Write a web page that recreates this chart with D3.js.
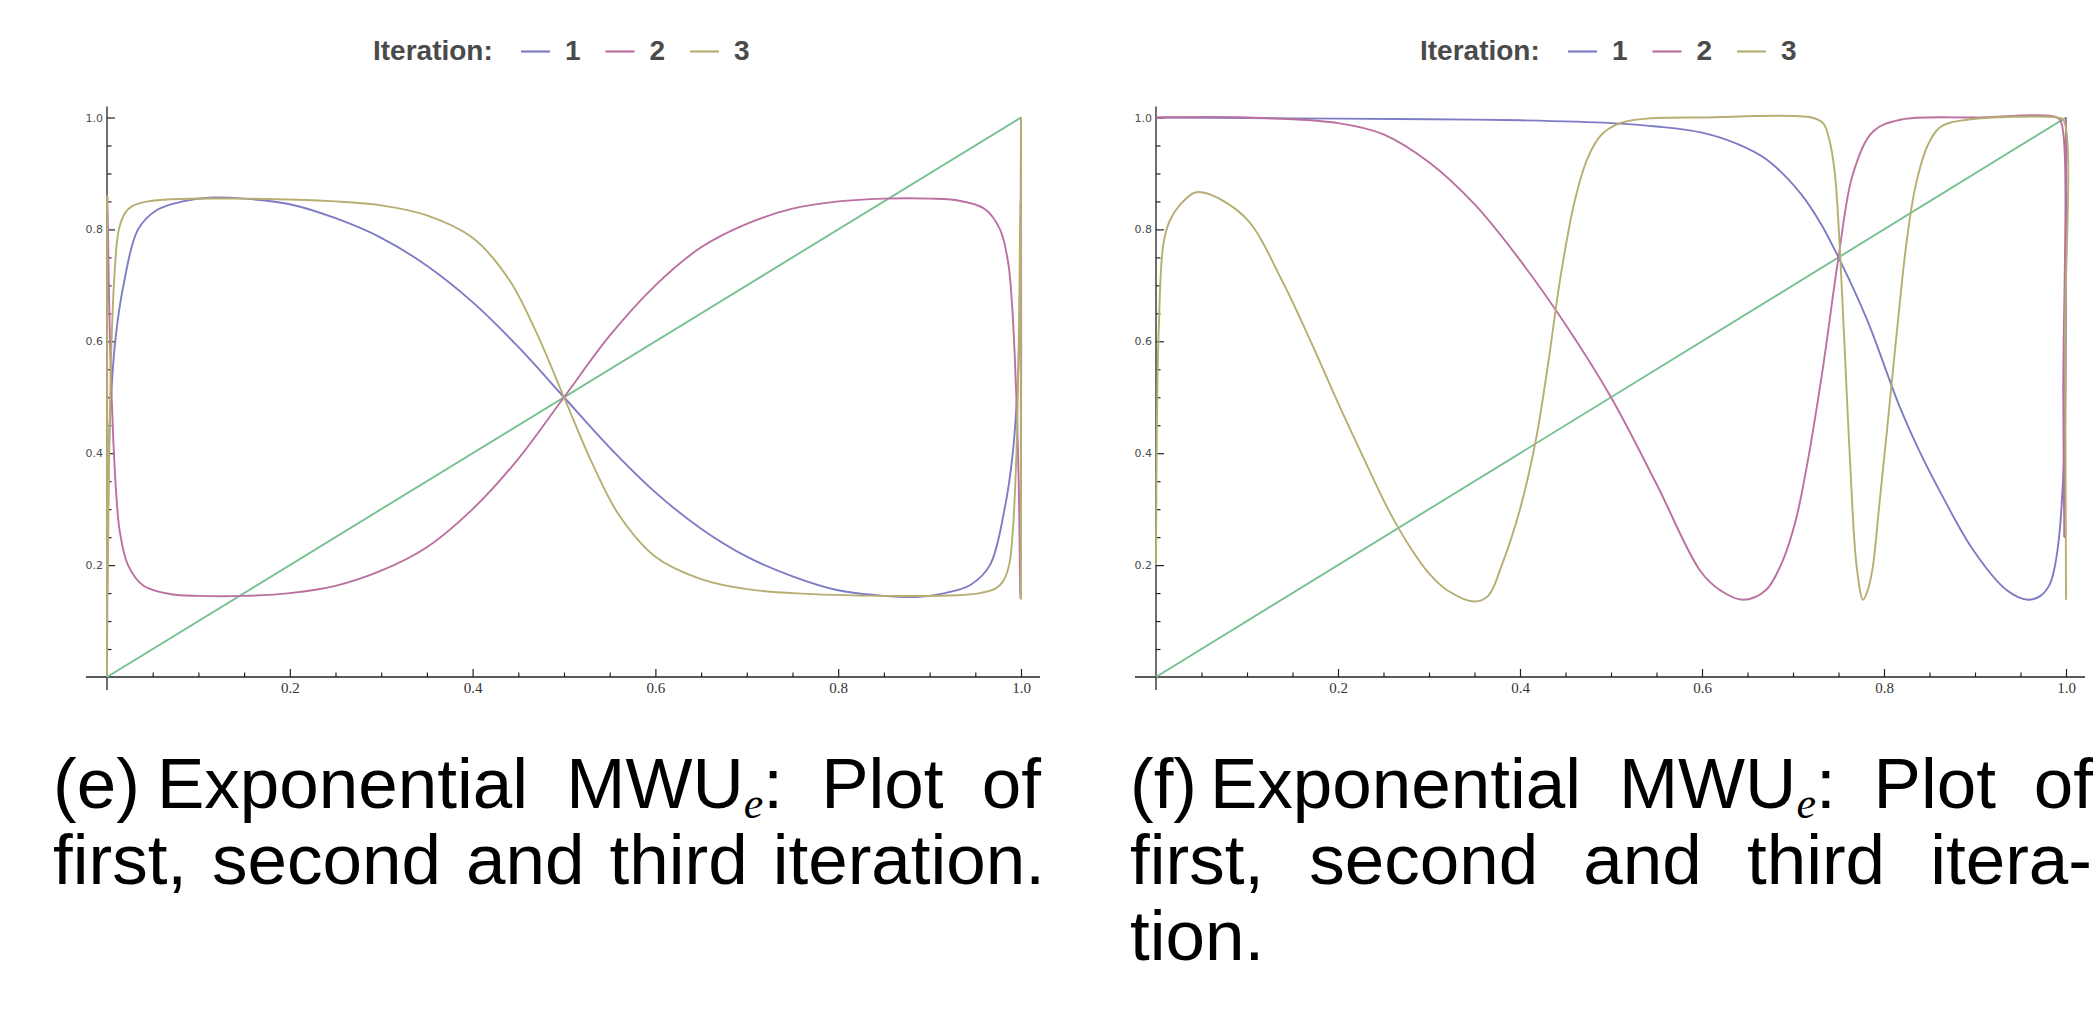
<!DOCTYPE html>
<html>
<head>
<meta charset="utf-8">
<script src="https://cdnjs.cloudflare.com/ajax/libs/d3/7.8.5/d3.min.js"></script>
<style>
    body { margin: 0; background: #fff; }
    .axis-line { stroke: #222; stroke-width: 1.3; }
    .tick line { stroke: #222; stroke-width: 1.2; }
    .y-axis text { font-family: 'DejaVu Sans', sans-serif; font-size: 11px; fill: #4d4d4d; }
    .x-axis text { font-family: 'Liberation Serif', serif; font-size: 15px; fill: #333; }
    .legend text { font-family: 'Liberation Sans', Arial, sans-serif; font-weight: bold; font-size: 28px; fill: #4a4a4a; }
    .caption { font-family: 'Liberation Sans', Arial, sans-serif; font-size: 71px; fill: #000; }
    .series { fill: none; stroke-width: 1.9; stroke-linejoin: round; }
</style>
</head>
<body>
<div id="chart"></div>
<script>

// ---- values ----
var xMajorTicks = [0.2, 0.4, 0.6, 0.8, 1.0];
var xTickLabels = ['0.2', '0.4', '0.6', '0.8', '1.0'];
var yMajorTicks = [0.2, 0.4, 0.6, 0.8, 1.0];
var yTickLabels = ['0.2', '0.4', '0.6', '0.8', '1.0'];
var minorTicks = [0.05, 0.1, 0.15, 0.25, 0.3, 0.35, 0.45, 0.5, 0.55, 0.65, 0.7, 0.75, 0.85, 0.9, 0.95];

var legendTitle = 'Iteration:';
var legendLabels = ['1', '2', '3'];
var seriesColors = ['#7e7cc4', '#bb71a0', '#b6ae72', '#76c191'];

var diagonal = [[0, 0], [1, 1]];

// (e) left panel
var leftIter1 = [[0, 0], [0.0008, 0.25], [0.003, 0.45], [0.009, 0.6], [0.018, 0.7], [0.034, 0.8], [0.055, 0.835],
    [0.083, 0.85], [0.115, 0.857], [0.15, 0.855], [0.2, 0.845], [0.25, 0.82], [0.3, 0.785], [0.35, 0.735],
    [0.4, 0.67], [0.45, 0.59], [0.5, 0.5], [0.55, 0.41], [0.6, 0.33], [0.65, 0.265], [0.7, 0.215], [0.75, 0.18],
    [0.8, 0.155], [0.85, 0.145], [0.885, 0.143], [0.917, 0.15], [0.945, 0.165], [0.966, 0.2], [0.982, 0.3],
    [0.991, 0.4], [0.997, 0.55], [0.9992, 0.75], [1, 1]];
var leftIter2 = [[0, 0], [0.0004, 0.86], [0.002, 0.7], [0.004, 0.55], [0.007, 0.42], [0.01, 0.33], [0.014, 0.26],
    [0.023, 0.2], [0.04, 0.163], [0.07, 0.148], [0.1, 0.145], [0.15, 0.145], [0.2, 0.15], [0.25, 0.163],
    [0.3, 0.19], [0.35, 0.232], [0.4, 0.3], [0.45, 0.39], [0.5, 0.5], [0.55, 0.61], [0.6, 0.7], [0.65, 0.768],
    [0.7, 0.81], [0.75, 0.837], [0.8, 0.85], [0.85, 0.855], [0.9, 0.855], [0.93, 0.852], [0.96, 0.837],
    [0.977, 0.8], [0.986, 0.74], [0.99, 0.67], [0.993, 0.58], [0.996, 0.45], [0.998, 0.3], [0.9992, 0.15],
    [0.9996, 0.14], [1, 1]];
var leftIter3 = [[0, 0], [0.0002, 0.86], [0.0006, 0.15], [0.002, 0.35], [0.005, 0.6], [0.009, 0.74], [0.013, 0.8],
    [0.02, 0.83], [0.028, 0.842], [0.045, 0.85], [0.07, 0.854], [0.15, 0.855], [0.25, 0.85], [0.3, 0.843],
    [0.35, 0.825], [0.4, 0.785], [0.44, 0.71], [0.47, 0.615], [0.5, 0.5], [0.53, 0.385], [0.56, 0.29],
    [0.6, 0.215], [0.65, 0.175], [0.7, 0.157], [0.75, 0.15], [0.85, 0.145], [0.93, 0.146], [0.955, 0.15],
    [0.972, 0.158], [0.98, 0.17], [0.987, 0.2], [0.991, 0.26], [0.995, 0.4], [0.998, 0.65], [0.9994, 0.85],
    [0.9998, 0.14], [1, 1]];

// (f) right panel
var rightIter1 = [[0, 1], [0.1, 0.999], [0.2, 0.998], [0.3, 0.997], [0.4, 0.995], [0.5, 0.99], [0.55, 0.984],
    [0.6, 0.973], [0.64, 0.952], [0.671, 0.925], [0.708, 0.865], [0.73, 0.812], [0.75, 0.75], [0.781, 0.64],
    [0.818, 0.48], [0.84, 0.4], [0.862, 0.33], [0.898, 0.227], [0.935, 0.155], [0.958, 0.138], [0.972, 0.145],
    [0.982, 0.165], [0.988, 0.2], [0.993, 0.26], [0.997, 0.36], [0.999, 0.45], [1, 1]];
var rightIter2 = [[0, 1], [0.1, 1], [0.2, 0.99], [0.25, 0.97], [0.3, 0.92], [0.35, 0.845], [0.4, 0.745],
    [0.45, 0.63], [0.5, 0.5], [0.55, 0.345], [0.598, 0.19], [0.62, 0.155], [0.645, 0.138], [0.67, 0.155],
    [0.689, 0.209], [0.703, 0.28], [0.715, 0.375], [0.733, 0.554], [0.75, 0.75], [0.766, 0.9], [0.788, 0.975],
    [0.818, 0.996], [0.9, 1], [0.99, 1], [0.995, 0.99], [0.997, 0.5], [0.998, 0.25], [0.999, 0.7], [1, 1]];
var rightIter3 = [[0, 0.2], [0.001, 0.45], [0.003, 0.62], [0.008, 0.773], [0.015, 0.815], [0.027, 0.845],
    [0.043, 0.866], [0.06, 0.862], [0.1, 0.818], [0.138, 0.71], [0.17, 0.6], [0.2, 0.49], [0.23, 0.385],
    [0.255, 0.3], [0.28, 0.23], [0.3, 0.185], [0.32, 0.155], [0.35, 0.135], [0.365, 0.145], [0.38, 0.2],
    [0.4, 0.3], [0.417, 0.42], [0.43, 0.55], [0.445, 0.72], [0.46, 0.85], [0.475, 0.93], [0.49, 0.97],
    [0.51, 0.99], [0.54, 0.998], [0.6, 1], [0.72, 1], [0.733, 0.99], [0.74, 0.96], [0.746, 0.9], [0.752, 0.75],
    [0.757, 0.58], [0.763, 0.375], [0.77, 0.197], [0.777, 0.138], [0.783, 0.16], [0.788, 0.2], [0.795, 0.31],
    [0.803, 0.436], [0.814, 0.615], [0.825, 0.78], [0.835, 0.88], [0.848, 0.95], [0.862, 0.983],
    [0.891, 0.996], [0.99, 1], [0.997, 0.996], [0.999, 0.6], [1, 0.138]];

var leftCaption = ['(e)', 'Exponential MWU', 'e', ': Plot of', 'first, second and third iteration.'];
var rightCaption = ['(f)', 'Exponential MWU', 'e', ': Plot of', 'first, second and third itera-', 'tion.'];


IterationPlot = function(_svg, _box, _series, _caption) {
    this.svg = _svg;
    this.box = _box;
    this.series = _series;
    this.caption = _caption;

    this.initVis();
}

IterationPlot.prototype.initVis = function() {
    var vis = this;

    vis.g = vis.svg.append('g').attr('class', 'panel');

    vis.x = d3.scaleLinear()
        .domain([0, 1])
        .range([vis.box.left, vis.box.right]);

    vis.y = d3.scaleLinear()
        .domain([0, 1])
        .range([vis.box.bottom, vis.box.top]);

    // long axis lines crossing at the origin
    vis.g.append('line')
        .attr('class', 'axis-line')
        .attr('x1', vis.x(0) - 21).attr('x2', vis.x(1) + 19)
        .attr('y1', vis.y(0)).attr('y2', vis.y(0));

    vis.g.append('line')
        .attr('class', 'axis-line')
        .attr('x1', vis.x(0)).attr('x2', vis.x(0))
        .attr('y1', vis.y(1) - 11).attr('y2', vis.y(0) + 13);

    vis.g.append('g')
        .attr('class', 'x-axis axis')
        .attr('transform', 'translate(0,' + vis.y(0) + ')')
        .call(d3.axisBottom(vis.x).tickValues(xMajorTicks).tickSize(-8).tickPadding(5)
            .tickFormat(function(d, i) { return xTickLabels[i]; }))
        .call(function(g) { g.select('.domain').remove(); });

    vis.g.append('g')
        .attr('class', 'x-axis axis')
        .attr('transform', 'translate(0,' + vis.y(0) + ')')
        .call(d3.axisBottom(vis.x).tickValues(minorTicks).tickSize(-4.5))
        .call(function(g) { g.select('.domain').remove(); g.selectAll('text').remove(); });

    vis.g.append('g')
        .attr('class', 'y-axis axis')
        .attr('transform', 'translate(' + vis.x(0) + ',0)')
        .call(d3.axisLeft(vis.y).tickValues(yMajorTicks).tickSize(-8).tickPadding(4)
            .tickFormat(function(d, i) { return yTickLabels[i]; }))
        .call(function(g) { g.select('.domain').remove(); });

    vis.g.append('g')
        .attr('class', 'y-axis axis')
        .attr('transform', 'translate(' + vis.x(0) + ',0)')
        .call(d3.axisLeft(vis.y).tickValues(minorTicks).tickSize(-4.5))
        .call(function(g) { g.select('.domain').remove(); g.selectAll('text').remove(); });

    vis.line = d3.line()
        .x(function(d) { return vis.x(d[0]); })
        .y(function(d) { return vis.y(d[1]); })
        .curve(d3.curveCatmullRom.alpha(0.5));

    vis.drawLegend();
    vis.drawCaption();
    vis.updateVis();
}

IterationPlot.prototype.drawLegend = function() {
    var vis = this;
    var startX = (vis.x(0) - 21 + vis.x(1) + 19) / 2 - 190;

    var legend = vis.g.append('g').attr('class', 'legend');

    legend.append('text')
        .attr('x', startX)
        .attr('y', 60)
        .text(legendTitle);

    legendLabels.forEach(function(lab, i) {
        var itemX = startX + 148 + i * 84.5;
        legend.append('line')
            .attr('x1', itemX).attr('x2', itemX + 29)
            .attr('y1', 51.5).attr('y2', 51.5)
            .attr('stroke', seriesColors[i])
            .attr('stroke-width', 2.2);
        legend.append('text')
            .attr('x', itemX + 44)
            .attr('y', 60)
            .text(lab);
    });
}

// widen the gaps between words so a caption line fills its width, like justified LaTeX text
function fitLine(text, width) {
    var natural = text.node().getComputedTextLength();
    var spaces = (text.text().match(/ /g) || []).length;
    if (spaces > 0) {
        text.style('word-spacing', ((width - natural) / spaces) + 'px');
    }
}

IterationPlot.prototype.drawCaption = function() {
    var vis = this;
    var c = vis.caption;
    var left = vis.box.captionLeft;

    vis.g.append('text')
        .attr('class', 'caption')
        .attr('x', left).attr('y', 808)
        .text(c[0]);

    var first = vis.g.append('text')
        .attr('class', 'caption')
        .attr('x', vis.box.captionIndent).attr('y', 808);
    first.append('tspan').text(c[1]);
    first.append('tspan')
        .attr('dy', 10)
        .style('font-family', "'Liberation Serif', serif")
        .style('font-style', 'italic')
        .style('font-size', '44px')
        .text(c[2]);
    first.append('tspan').attr('dy', -10).text(c[3]);
    fitLine(first, vis.box.line1Len);

    for (var i = 4; i < c.length; i++) {
        var t = vis.g.append('text')
            .attr('class', 'caption')
            .attr('x', left).attr('y', 808 + (i - 3) * 76)
            .text(c[i]);
        if (i == 4) fitLine(t, vis.box.line2Len);
    }
}

IterationPlot.prototype.updateVis = function() {
    var vis = this;

    var paths = vis.g.selectAll('.series')
        .data(vis.series);

    paths.enter()
        .append('path')
        .attr('class', 'series')
        .merge(paths)
        .attr('d', function(d) { return vis.line(d.values); })
        .attr('stroke', function(d) { return d.color; });

    paths.exit().remove();
}


var svg = d3.select('#chart')
    .append('svg')
    .attr('width', 2093)
    .attr('height', 1019);

svg.append('rect').attr('width', 2093).attr('height', 1019).attr('fill', '#fff');

var leftPlot = new IterationPlot(svg,
    { left: 107, right: 1021, top: 117.5, bottom: 677, captionLeft: 53, captionIndent: 157,
      line1Len: 884, line2Len: 992 },
    [
        { values: diagonal, color: seriesColors[3] },
        { values: leftIter1, color: seriesColors[0] },
        { values: leftIter2, color: seriesColors[1] },
        { values: leftIter3, color: seriesColors[2] }
    ],
    leftCaption);

var rightPlot = new IterationPlot(svg,
    { left: 1156, right: 2066, top: 117.5, bottom: 677, captionLeft: 1130, captionIndent: 1210,
      line1Len: 883, line2Len: 962 },
    [
        { values: diagonal, color: seriesColors[3] },
        { values: rightIter1, color: seriesColors[0] },
        { values: rightIter2, color: seriesColors[1] },
        { values: rightIter3, color: seriesColors[2] }
    ],
    rightCaption);

</script>
</body>
</html>
